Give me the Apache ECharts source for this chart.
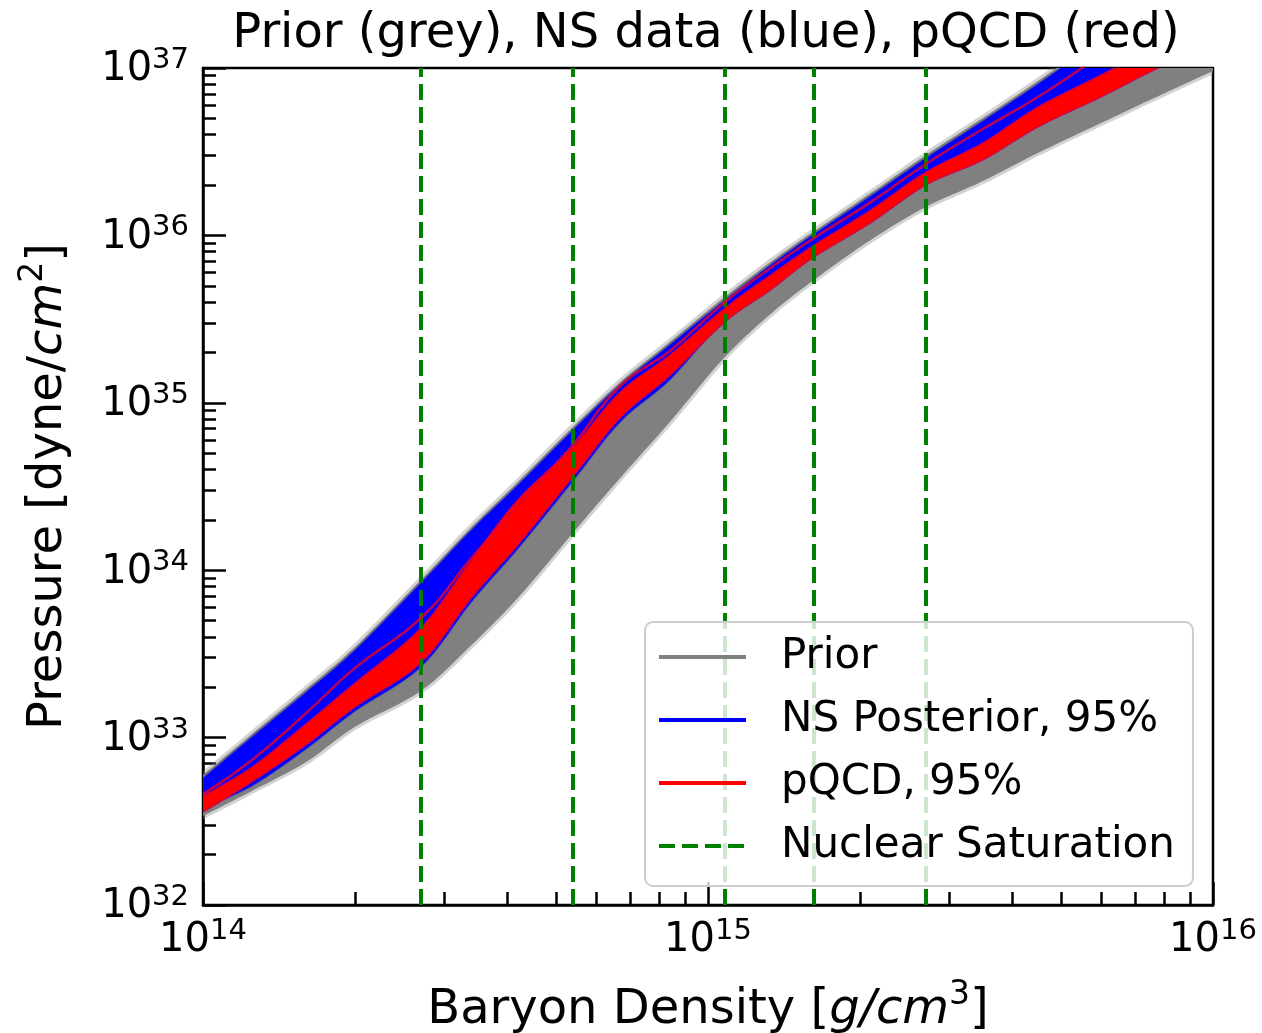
<!DOCTYPE html>
<html>
<head>
<meta charset="utf-8">
<title>Prior, NS data, pQCD</title>
<script src="https://cdn.jsdelivr.net/npm/echarts@6/dist/echarts.min.js"></script>
<style>
  html, body { margin: 0; padding: 0; background: #fff; }
  #chart { width: 1262px; height: 1033px; }
</style>
</head>
<body>
<div id="chart"></div>
<script>
// baryon density sample points [g/cm^3]
const density = [1e14, 1.25e14, 1.6e14, 2e14, 2.7e14, 3.4e14, 4.2e14, 5.4e14, 6.7e14, 8.4e14,
  1.08e15, 1.33e15, 1.6e15, 2.1e15, 2.7e15, 3.5e15, 4.5e15, 6e15, 7.5e15, 1e16];

// pressure envelopes [dyne/cm^2]
const priorHigh = [5.98e32, 1.05e33, 1.95e33, 3.48e33, 8.74e33, 1.81e34, 3.36e34, 7.17e34, 1.33e35, 2.31e35,
  4.29e35, 6.94e35, 1.03e36, 1.79e36, 3.02e36, 5.03e36, 8.36e36, 1.53e37, 2.38e37, 4.12e37];
const priorLow = [3.40e32, 4.80e32, 7.15e32, 1.16e33, 1.90e33, 3.57e33, 6.82e33, 1.67e34, 3.56e34, 7.68e34,
  1.88e35, 3.39e35, 5.27e35, 9.39e35, 1.48e36, 2.11e36, 3.11e36, 4.69e36, 6.44e36, 9.60e36];
const nsHigh = [5.74e32, 1.01e33, 1.87e33, 3.34e33, 8.39e33, 1.74e34, 3.23e34, 6.88e34, 1.28e35, 2.22e35,
  4.11e35, 6.66e35, 9.92e35, 1.72e36, 2.90e36, 4.83e36, 8.03e36, 1.47e37, 2.28e37, 3.96e37];
const nsLow = [3.80e32, 5.14e32, 8.55e32, 1.44e33, 2.64e33, 6.46e33, 1.34e34, 3.41e34, 7.68e34, 1.37e35,
  3.17e35, 5.06e35, 7.74e35, 1.31e36, 2.20e36, 3.24e36, 5.46e36, 8.48e36, 1.16e37, 1.76e37];
const pqcdHigh = [4.48e32, 6.67e32, 1.21e33, 2.12e33, 4.52e33, 1.15e34, 2.63e34, 5.45e34, 1.16e35, 1.93e35,
  3.68e35, 5.80e35, 8.52e35, 1.42e36, 2.39e36, 3.57e36, 5.85e36, 9.08e36, 1.28e37, 1.94e37];
const pqcdLow = [3.59e32, 5.43e32, 9.03e32, 1.52e33, 2.79e33, 6.82e33, 1.41e34, 3.60e34, 8.12e34, 1.45e35,
  3.04e35, 4.72e35, 7.23e35, 1.19e36, 2.00e36, 2.82e36, 4.44e36, 6.71e36, 9.47e36, 1.43e37];
// single pQCD curve running through the blue band
const pqcdEdge = [4.60e32, 7.35e32, 1.40e33, 2.61e33, 5.18e33, 1.18e34, 2.45e34, 5.60e34, 1.26e35, 2.04e35,
  4.00e35, 6.39e35, 9.39e35, 1.58e36, 2.67e36, 4.32e36, 6.71e36, 1.20e37, 1.94e37, 3.22e37];

// 1, 2, 4, 6, 10 x nuclear saturation density
const satDensity = [2.7e14, 5.4e14, 1.08e15, 1.62e15, 2.7e15];

// ticks
const xMajor = [1e14, 1e15, 1e16];
const yMajor = [1e32, 1e33, 1e34, 1e35, 1e36, 1e37];
function minorTicks(majors) {
  const out = [];
  for (let i = 0; i < majors.length - 1; i++) {
    for (let k = 2; k <= 9; k++) out.push(majors[i] * k);
  }
  return out;
}
const xMinor = minorTicks(xMajor);
const yMinor = minorTicks(yMajor);

const FONT = 'DejaVu Sans';

function powLabel(v) {
  const e = Math.round(Math.log10(v));
  return '{b|10}{s|' + e + '}';
}
const labelRich = {
  b: { fontSize: 40, fontFamily: FONT, color: '#000', lineHeight: 44, verticalAlign: 'bottom' },
  s: { fontSize: 29, fontFamily: FONT, color: '#000', lineHeight: 24, verticalAlign: 'top' }
};
const nameRich = {
  n: { fontSize: 48, fontFamily: FONT, color: '#000', lineHeight: 56, verticalAlign: 'bottom' },
  i: { fontSize: 48, fontFamily: FONT, fontStyle: 'italic', color: '#000', lineHeight: 56, verticalAlign: 'bottom' },
  s: { fontSize: 33, fontFamily: FONT, color: '#000', lineHeight: 28, verticalAlign: 'top' }
};

// catmull-rom pass over pixel points so the band edges are not angular
function smoothPts(pts, steps) {
  const out = [];
  const n = pts.length;
  for (let i = 0; i < n - 1; i++) {
    const p0 = pts[Math.max(i - 1, 0)], p1 = pts[i], p2 = pts[i + 1], p3 = pts[Math.min(i + 2, n - 1)];
    for (let s = 0; s < steps; s++) {
      const t = s / steps, t2 = t * t, t3 = t2 * t;
      const c = [0, 1].map(k => 0.5 * (2 * p1[k] + (-p0[k] + p2[k]) * t +
        (2 * p0[k] - 5 * p1[k] + 4 * p2[k] - p3[k]) * t2 +
        (-p0[k] + 3 * p1[k] - 3 * p2[k] + p3[k]) * t3));
      out.push(c);
    }
  }
  out.push(pts[n - 1]);
  return out;
}

// band drawn as a polygon through the axis scales
function band(name, low, high, fill, stroke, lineWidth, z) {
  return {
    type: 'custom',
    name: name,
    z: z,
    clip: true,
    silent: true,
    data: [[1e15, 1e35]],
    renderItem: function (params, api) {
      const top = density.map((d, i) => api.coord([d, high[i]]));
      const bot = density.map((d, i) => api.coord([d, low[i]]));
      const pts = smoothPts(top, 8).concat(smoothPts(bot, 8).reverse());
      return {
        type: 'polygon',
        shape: { points: pts },
        style: { fill: fill, stroke: stroke, lineWidth: lineWidth, lineJoin: 'round' }
      };
    }
  };
}

function legendLine(name, color, type, width) {
  return {
    type: 'line', name: name, data: [], symbol: 'none', color: color,
    lineStyle: { color: color, type: type, width: width }
  };
}

const chart = echarts.init(document.getElementById('chart'));

const option = {
  animation: false,
  backgroundColor: '#fff',
  title: {
    text: 'Prior (grey), NS data (blue), pQCD (red)',
    left: 706,
    textAlign: 'center',
    top: 11,
    padding: 0,
    textStyle: { fontSize: 48, fontWeight: 'normal', fontFamily: FONT, color: '#000' }
  },
  grid: {
    left: 203, right: 49, top: 68, bottom: 128,
    outerBoundsMode: 'none',
    containLabel: false,
    show: true, borderColor: '#000', borderWidth: 2.5, backgroundColor: 'transparent'
  },
  legend: {
    data: ['Prior', 'NS Posterior, 95%', 'pQCD, 95%', 'Nuclear Saturation'],
    orient: 'vertical',
    left: 645, top: 622,
    itemWidth: 87, itemHeight: 20, itemGap: 17,
    padding: [12, 18, 17, 12],
    backgroundColor: 'rgba(255,255,255,0.8)',
    borderColor: '#cccccc', borderWidth: 2, borderRadius: 8,
    itemStyle: { opacity: 0 },
    lineStyle: { width: 4 },
    textStyle: { fontSize: 42, fontFamily: FONT, color: '#000', lineHeight: 46, padding: [0, 0, 0, 30] },
    z: 10
  },
  xAxis: [
    {
      type: 'log', logBase: 10, min: 1e14, max: 1e16, position: 'bottom',
      name: '{n|Baryon Density [}{i|g/cm}{s|3}{n|]}',
      nameLocation: 'middle', nameGap: 74,
      nameTextStyle: { rich: nameRich },
      axisLine: { show: true, onZero: false, lineStyle: { color: '#000', width: 2.5 } },
      axisTick: { show: true, inside: true, length: 23, lineStyle: { color: '#000', width: 2.5 }, customValues: xMajor },
      axisLabel: { customValues: xMajor, formatter: powLabel, rich: labelRich, margin: 12 },
      splitLine: { show: false }
    },
    {
      type: 'log', logBase: 10, min: 1e14, max: 1e16, position: 'bottom',
      axisLine: { show: false },
      axisTick: { show: true, inside: true, length: 13, lineStyle: { color: '#000', width: 2.5 }, customValues: xMinor },
      axisLabel: { show: false },
      splitLine: { show: false }
    }
  ],
  yAxis: [
    {
      type: 'log', logBase: 10, min: 1e32, max: 1e37, position: 'left',
      name: '{n|Pressure [dyne/}{i|cm}{s|2}{n|]}',
      nameLocation: 'middle', nameGap: 130, nameRotate: 90,
      nameTextStyle: { rich: nameRich },
      axisLine: { show: true, onZero: false, lineStyle: { color: '#000', width: 2.5 } },
      axisTick: { show: true, inside: true, length: 23, lineStyle: { color: '#000', width: 2.5 }, customValues: yMajor },
      axisLabel: { customValues: yMajor, formatter: powLabel, rich: labelRich, margin: 14 },
      splitLine: { show: false }
    },
    {
      type: 'log', logBase: 10, min: 1e32, max: 1e37, position: 'left',
      axisLine: { show: false },
      axisTick: { show: true, inside: true, length: 13, lineStyle: { color: '#000', width: 2.5 }, customValues: yMinor },
      axisLabel: { show: false },
      splitLine: { show: false }
    }
  ],
  series: [
    band('priorBand', priorLow, priorHigh, '#808080', 'rgba(128,128,128,0.35)', 6, 2),
    band('nsBand', nsLow, nsHigh, '#0000ff', 'rgba(40,40,200,0.5)', 1.5, 3),
    band('pqcdBand', pqcdLow, pqcdHigh, '#ff0000', 'rgba(200,0,80,0.8)', 1.5, 4),
    {
      type: 'line', name: 'pqcdEdge', z: 5, clip: true, silent: true,
      data: density.map((d, i) => [d, pqcdEdge[i]]),
      smooth: true, showSymbol: false, symbol: 'none',
      lineStyle: { color: 'rgba(235,0,40,0.8)', width: 2.5 }
    },
    legendLine('Prior', '#808080', 'solid', 4),
    legendLine('NS Posterior, 95%', '#0000ff', 'solid', 4),
    legendLine('pQCD, 95%', '#ff0000', 'solid', 4),
    {
      type: 'line', name: 'Nuclear Saturation', data: [], symbol: 'none', color: '#008000', z: 6,
      lineStyle: { color: '#008000', type: [16, 7], width: 3.5 },
      markLine: {
        silent: true, symbol: ['none', 'none'],
        label: { show: false },
        lineStyle: { color: '#008000', type: [16, 7], width: 4 },
        data: satDensity.map(v => ({ xAxis: v }))
      }
    }
  ]
};

chart.setOption(option);
</script>
</body>
</html>
